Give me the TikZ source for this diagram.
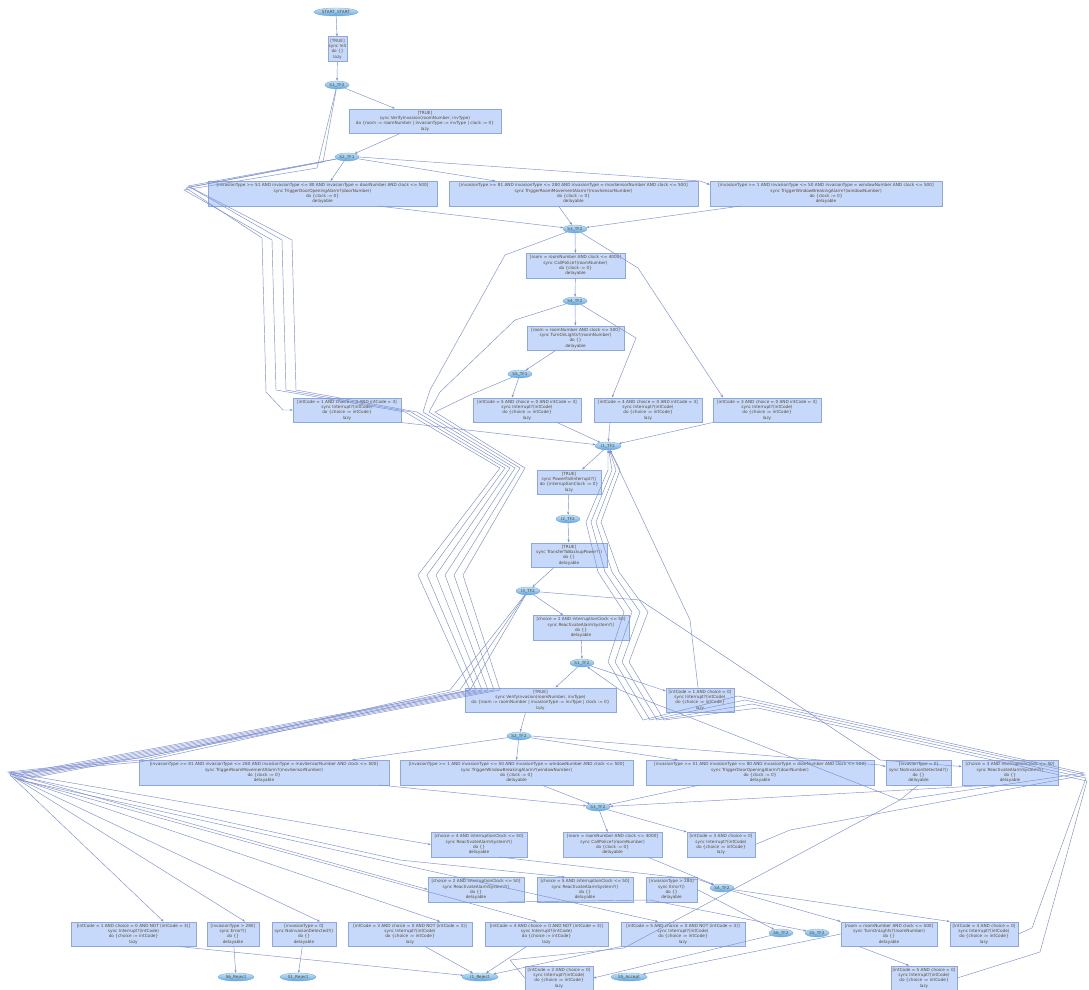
\documentclass[tikz,border=0pt]{standalone}
\usepackage{fontspec}
\setmainfont{DejaVu Sans}
\usetikzlibrary{arrows.meta,shapes.geometric}
\definecolor{boxfill}{HTML}{C6D9FA}
\definecolor{boxline}{HTML}{8EA8DE}
\definecolor{edgecol}{HTML}{7D8FCF}
\definecolor{txt}{HTML}{5A4A30}
\definecolor{elltop}{HTML}{C9E6FA}
\definecolor{ellbot}{HTML}{5AA6E0}
\definecolor{ellline}{HTML}{7AAAD8}
\tikzset{
  tbox/.style={draw=boxline, fill=boxfill, line width=0.5pt, rectangle,
    minimum height=24.5pt, inner sep=0.5pt, align=center, text=txt,
    font=\fontsize{4.2}{5.3}\selectfont},
  st/.style={ellipse, draw=ellline, top color=elltop, bottom color=ellbot,
    line width=0.4pt, minimum width=24pt, minimum height=8pt, inner sep=0pt,
    text=txt, font=\fontsize{4.2}{5}\selectfont},
  fin/.style={st, minimum width=36pt},
  tr/.style={draw=edgecol, line width=0.45pt, -{Stealth[length=3pt,width=2.2pt]}},
}
\newcommand{\verifytxt}{[TRUE]\\sync VerifyInvasion(roomNumber, invType)\\do \{room := roomNumber | invasionType := invType | clock := 0\}\\lazy}
\newcommand{\doortxt}{[invasionType >= 51 AND invasionType <= 80 AND invasionType = doorNumber AND clock <= 500]\\sync TriggerDoorOpeningAlarm?(doorNumber)\\do \{clock := 0\}\\delayable}
\newcommand{\movtxt}{[invasionType >= 81 AND invasionType <= 280 AND invasionType = movSensorNumber AND clock <= 500]\\sync TriggerRoomMovementAlarm?(movSensorNumber)\\do \{clock := 0\}\\delayable}
\newcommand{\wintxt}{[invasionType >= 1 AND invasionType <= 50 AND invasionType = windowNumber AND clock <= 500]\\sync TriggerWindowBreakingAlarm?(windowNumber)\\do \{clock := 0\}\\delayable}
\newcommand{\policetxt}{[room = roomNumber AND clock <= 4000]\\sync CallPolice?(roomNumber)\\do \{clock := 0\}\\delayable}
\newcommand{\lightstxt}{[room = roomNumber AND clock <= 500]\\sync TurnOnLights?(roomNumber)\\do \{\}\\delayable}
\newcommand{\inttxt}[1]{[#1]\\sync Interrupt?(intCode)\\do \{choice := intCode\}\\lazy}
\newcommand{\reacttxt}[1]{[choice = #1 AND interruptionClock <= 50]\\sync ReactivateAlarmSystem?()\\do \{\}\\delayable}
\newcommand{\errtxt}{[invasionType > 280]\\sync Error?()\\do \{\}\\delayable}
\newcommand{\noinvtxt}{[invasionType = 0]\\sync NoInvasionDetected?()\\do \{\}\\delayable}
\begin{document}
\begin{tikzpicture}[x=1pt,y=-1pt]
\fill[white] (0,0) rectangle (1089,990);
\useasboundingbox (0,0) rectangle (1089,990);

% ---------- states ----------
\node[st, minimum width=44pt] (S0) at (336,12) {START\_START};
\node[st] (SA1) at (337,85) {S1\_TF2};
\node[st] (SB1) at (347,157) {S2\_TF1};
\node[st] (SC1) at (575,229) {S3\_TF2};
\node[st] (SD1) at (575,301) {S4\_TF2};
\node[st] (SE1) at (520,374) {S5\_TF1};
\node[st, minimum width=26pt] (I1) at (608,446) {I1\_TF2};
\node[st] (I2) at (568,519) {I2\_TF2};
\node[st] (I3) at (528,591) {I3\_TF2};
\node[st] (SA2) at (582,663) {S1\_TF2};
\node[st] (SB2) at (519,736) {S2\_TF2};
\node[st] (SC2) at (598,807) {S3\_TF2};
\node[st] (SD2) at (722,888) {S4\_TF2};
\node[st] (SF2) at (781,933) {S6\_TF2};
\node[st] (SE2) at (817,933) {S5\_TF2};
\node[fin] (R6) at (236,977) {S6\_Reject};
\node[fin] (R1) at (298,977) {S1\_Reject};
\node[fin] (RI) at (480,977) {I1\_Reject};
\node[fin] (AC) at (629,977) {S5\_Accept};

% ---------- transitions ----------
\node[tbox, minimum width=19pt] (B1) at (337.5,49) {[TRUE]\\sync Init\\do \{\}\\lazy};
\node[tbox, minimum width=152pt] (B2) at (425,121) {\verifytxt};
\node[tbox, minimum width=229pt] (B3) at (322.5,193.5) {\doortxt};
\node[tbox, minimum width=249pt] (B4) at (573.5,193.5) {\movtxt};
\node[tbox, minimum width=232pt] (B5) at (826,193.5) {\wintxt};
\node[tbox, minimum width=99pt] (B6) at (575.5,265.5) {\policetxt};
\node[tbox, minimum width=97pt] (B7) at (575.5,338) {\lightstxt};
\node[tbox, minimum width=108pt] (B8) at (347,410) {\inttxt{intCode = 1 AND choice = 0 AND intCode = 3}};
\node[tbox, minimum width=108pt] (B9) at (527,410) {\inttxt{intCode = 5 AND choice = 0 AND intCode = 3}};
\node[tbox, minimum width=108pt] (B10) at (648,410) {\inttxt{intCode = 4 AND choice = 0 AND intCode = 3}};
\node[tbox, minimum width=108pt] (B11) at (767,410) {\inttxt{intCode = 3 AND choice = 0 AND intCode = 3}};
\node[tbox, minimum width=64pt] (B12) at (569,482) {[TRUE]\\sync PowerFailInterrupt?()\\do \{interruptionClock := 0\}\\lazy};
\node[tbox, minimum width=76pt] (B13) at (569,555) {[TRUE]\\sync TransferToBackupPower?()\\do \{\}\\delayable};
\node[tbox, minimum width=96pt] (B14) at (581,627.5) {\reacttxt{1}};
\node[tbox, minimum width=151pt] (B15) at (540.5,700) {\verifytxt};
\node[tbox, minimum width=68pt] (B16) at (700,700) {\inttxt{intCode = 1 AND choice = 0}};
\node[tbox, minimum width=250pt] (B17) at (264,772.5) {\movtxt};
\node[tbox, minimum width=233pt] (B18) at (516.5,772.5) {\wintxt};
\node[tbox, minimum width=228pt] (B19) at (760,772.5) {\doortxt};
\node[tbox, minimum width=65pt] (B20) at (918.5,772.5) {\noinvtxt};
\node[tbox, minimum width=96pt] (B21) at (1010,772.5) {\reacttxt{3}};
\node[tbox, minimum width=96pt] (B22) at (479,844.5) {\reacttxt{4}};
\node[tbox, minimum width=99pt] (B23) at (612.5,844.5) {\policetxt};
\node[tbox, minimum width=68pt] (B24) at (721,844.5) {\inttxt{intCode = 3 AND choice = 0}};
\node[tbox, minimum width=96pt] (B25) at (476,889.5) {\reacttxt{2}};
\node[tbox, minimum width=96pt] (B26) at (585,889.5) {\reacttxt{5}};
\node[tbox, minimum width=51pt] (B27) at (671.5,889.5) {\errtxt};
\node[tbox, minimum width=125pt] (B28) at (133.5,934) {\inttxt{intCode = 1 AND choice = 0 AND NOT (intCode = 3)}};
\node[tbox, minimum width=52pt] (B29) at (233,934) {\errtxt};
\node[tbox, minimum width=64pt] (B30) at (304,934) {\noinvtxt};
\node[tbox, minimum width=124pt] (B31) at (410,934) {\inttxt{intCode = 3 AND choice = 0 AND NOT (intCode = 3)}};
\node[tbox, minimum width=123pt] (B32) at (546.5,934) {\inttxt{intCode = 4 AND choice = 0 AND NOT (intCode = 3)}};
\node[tbox, minimum width=124pt] (B33) at (683,934) {\inttxt{intCode = 5 AND choice = 0 AND NOT (intCode = 3)}};
\node[tbox, minimum width=96pt] (B34) at (889,934) {\lightstxt};
\node[tbox, minimum width=68pt] (B35) at (984,934) {\inttxt{intCode = 4 AND choice = 0}};
\node[tbox, minimum width=68pt] (B36) at (559,978) {\inttxt{intCode = 2 AND choice = 0}};
\node[tbox, minimum width=66pt] (B37) at (924,978) {\inttxt{intCode = 5 AND choice = 0}};

% ---------- short connectors ----------
\draw[tr] (S0) -- (B1);
\draw[tr] (B1) -- (SA1);
\draw[tr] (SA1) -- ([xshift=-30pt]B2.north);
\draw[tr] ([xshift=-25pt]B2.south) -- (SB1);
\draw[tr] (SB1) -- ([xshift=8pt]B3.north);
\draw[tr] (SB1) -- ([xshift=-78pt]B4.north);
\draw[tr] (SB1.east) -- (700,181) -- ([yshift=9pt]B5.west);
\draw[tr] ([xshift=55pt]B3.south) -- (SC1);
\draw[tr] ([xshift=-15pt]B4.south) -- (SC1);
\draw[tr] ([xshift=-85pt]B5.south) -- (SC1);
\draw[tr] (SC1) -- (B6);
\draw[tr] (B6) -- (SD1);
\draw[tr] (SD1) -- (B7);
\draw[tr] ([xshift=-20pt]B7.south) -- (SE1);
\draw[tr] (SE1) -- ([xshift=-15pt]B9.north);
\draw[tr] (SD1) -- (636,338) -- ([xshift=-36pt]B10.north);
\draw[tr] (SC1) -- (638,268) -- ([xshift=-44pt]B11.north);
\draw[tr] (B8.south east) -- (I1);
\draw[tr] ([xshift=30pt]B9.south) -- (I1);
\draw[tr] ([xshift=-38pt]B10.south) -- (I1);
\draw[tr] (B11.south west) -- (I1);
\draw[tr] (I1) -- ([xshift=13pt]B12.north);
\draw[tr] (B12) -- (I2);
\draw[tr] (I2) -- (B13);
\draw[tr] ([xshift=-15pt]B13.south) -- (I3);
\draw[tr] (I3) -- ([xshift=-18pt]B14.north);
\draw[tr] (B14) -- (SA2);
\draw[tr] (SA2) -- ([xshift=15pt]B15.north);
\draw[tr] ([xshift=-15pt]B15.south) -- (SB2);
\draw[tr] (SA2) -- ([yshift=9pt]B16.west);
\draw[tr] (SB2) -- ([xshift=88pt]B17.north);
\draw[tr] (SB2) -- (B18.north);
\draw[tr] (SB2) -- ([xshift=-82pt]B19.north);
\draw[tr] (SB2.east) -- (880,765) -- ([yshift=6pt]B20.west);
\draw[tr] ([xshift=115pt]B17.south) -- (SC2);
\draw[tr] ([xshift=25pt]B18.south) -- (SC2);
\draw[tr] ([xshift=-60pt]B19.south) -- (SC2);
\draw[tr] ([xshift=-15pt]B21.south) -- (SC2);
\draw[tr] (SC2) -- ([xshift=-5pt]B23.north);
\draw[tr] (SC2) -- (B24.north west);
\draw[tr] ([xshift=35pt]B23.south) -- (SD2);
\draw[tr] (SD2) -- (B34.north west);
\draw[tr] (SD2) -- (B35.north west);
\draw[tr] (B29) -- (R6);
\draw[tr] (B30) -- (R1);
\draw[tr] ([xshift=45pt]B28.south) -- (RI);
\draw[tr] ([xshift=15pt]B31.south) -- (RI);
\draw[tr] ([xshift=-20pt]B32.south) -- (RI);
\draw[tr] (B33.south west) -- (RI);
\draw[tr] (B34.west) -- (AC);
\draw[tr] (SF2) -- (B36.east);
\draw[tr] ([xshift=-30pt]B34.south) -- ([xshift=-15pt]B37.north);
\draw[tr] (B27.east) -- (SF2);

% ---------- long connectors ----------
% S1_TF2 (top) interrupt into B8, routed round the left
\draw[tr] (SA1) -- (323,162) -- (186,188) -- (262,238) -- (266,392) -- (283,410) -- (B8.west);
% top states to the lower interrupt / error boxes
\draw[tr] (SA1) -- (317,168) -- (184,190) -- (272,240) -- (276,390) -- (405,412) -- (500,468) -- (418,575) -- (470,690) -- (10,775) -- ([xshift=30pt]B28.north);
\draw[tr] (SB1) -- (188,186) -- (282,240) -- (286,390) -- (411,412) -- (505,468) -- (427,575) -- (476,690) -- (12,776) -- ([xshift=12pt]B29.north);
\draw[tr] (SB1) -- (190,187) -- (292,240) -- (296,390) -- (417,412) -- (510,468) -- (436,575) -- (482,690) -- (14,777) -- ([xshift=16pt]B30.north);
\draw[tr] (SC1) -- (505,255) -- (480,300) -- (430,390) -- (423,412) -- (515,468) -- (445,575) -- (488,690) -- (16,778) -- ([xshift=30pt]B31.north);
\draw[tr] (SD1) -- (515,320) -- (440,392) -- (429,412) -- (520,468) -- (454,575) -- (494,690) -- (18,779) -- ([xshift=-10pt]B32.north);
\draw[tr] (SE1) -- (470,395) -- (435,412) -- (525,468) -- (463,575) -- (500,690) -- (20,780) -- ([xshift=-25pt]B33.north);
% I3_TF2 reactivation branches
\draw[tr] (I3) -- (460,690) -- (140,758) -- (8,772) -- (B22.west);
\draw[tr] (I3) -- (450,690) -- (140,760) -- (9,773) -- (B25.west);
\draw[tr] (I3) -- (470,690) -- (140,762) -- (10,774) -- (400,860) -- ([xshift=-20pt]B26.north);
\draw[tr] (I3) -- (640,600) -- (880,760) -- ([yshift=6pt]B21.west);
% lower interrupt boxes back up to I1_TF2
\draw[tr] ([xshift=-2pt]B16.north) -- (690,620) -- (I1);
\draw[tr] (B24.east) -- (790,830) -- (1085,775) -- (745,700) -- (650,720) -- (615,662) -- (632,612) -- (605,572) -- (591,522) -- (612,470) -- (I1);
\draw[tr] (B35.east) -- (1032,928) -- (1086,778) -- (752,704) -- (657,720) -- (622,662) -- (640,612) -- (612,572) -- (596,522) -- (616,470) -- (I1);
\draw[tr] (B37.east) -- (1040,952) -- (1087,781) -- (758,708) -- (664,720) -- (629,662) -- (648,612) -- (619,572) -- (601,522) -- (620,470) -- (I1);
\draw[tr] (B36.west) -- (510,960) -- (624,948) -- (900,800) -- (1084,773) -- (738,696) -- (643,720) -- (608,662) -- (624,612) -- (598,572) -- (586,522) -- (608,470) -- (I1);
% lower reactivation / no-invasion back to the S-states
\draw[tr] (B20.south) -- (900,800) -- (620,690) -- (SA2);
\draw[tr] ([xshift=20pt]B22.south) -- (700,880) -- (SD2);
\draw[tr] ([xshift=30pt]B25.south) -- (650,900) -- (SE2);
\end{tikzpicture}
\end{document}
